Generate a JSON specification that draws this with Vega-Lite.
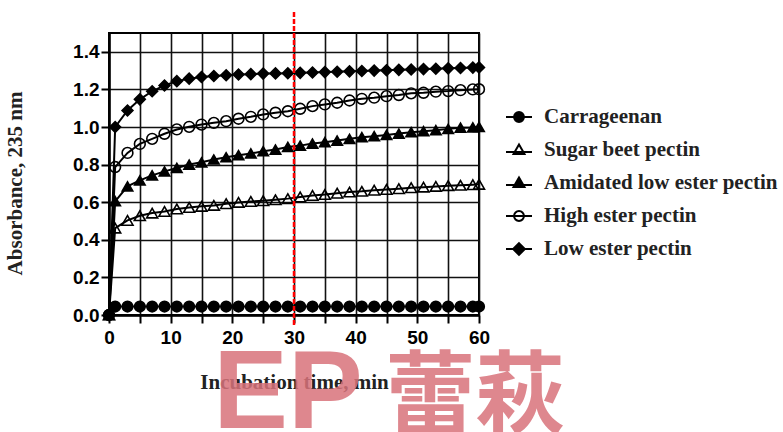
{
  "$schema": "https://vega.github.io/schema/vega-lite/v6.json",
  "width": 370,
  "height": 282,
  "autosize": "none",
  "padding": {"left": 109, "top": 33, "right": 304, "bottom": 117},
  "background": "white",
  "config": {
    "view": {"stroke": "black", "strokeWidth": 2},
    "axis": {
      "domainColor": "black", "domainWidth": 2.5,
      "tickColor": "black", "tickWidth": 2, "tickSize": 8,
      "gridColor": "#111111", "gridWidth": 1.6, "gridOpacity": 1,
      "labelFont": "Liberation Sans", "labelFontWeight": "bold", "labelFontSize": 19, "labelColor": "black",
      "labelOverlap": false, "labelBound": false, "labelFlush": false,
      "titleFont": "Liberation Serif", "titleFontWeight": "bold", "titleFontSize": 21, "titleColor": "#222222"
    }
  },
  "datasets": {
    "main": [
      {"t":0,"s":"Carrageenan","v":0},{"t":1,"s":"Carrageenan","v":0.045},{"t":3,"s":"Carrageenan","v":0.045},{"t":5,"s":"Carrageenan","v":0.045},{"t":7,"s":"Carrageenan","v":0.045},{"t":9,"s":"Carrageenan","v":0.045},{"t":11,"s":"Carrageenan","v":0.045},{"t":13,"s":"Carrageenan","v":0.045},{"t":15,"s":"Carrageenan","v":0.045},{"t":17,"s":"Carrageenan","v":0.045},{"t":19,"s":"Carrageenan","v":0.045},{"t":21,"s":"Carrageenan","v":0.045},{"t":23,"s":"Carrageenan","v":0.045},{"t":25,"s":"Carrageenan","v":0.045},{"t":27,"s":"Carrageenan","v":0.045},{"t":29,"s":"Carrageenan","v":0.045},{"t":31,"s":"Carrageenan","v":0.045},{"t":33,"s":"Carrageenan","v":0.045},{"t":35,"s":"Carrageenan","v":0.045},{"t":37,"s":"Carrageenan","v":0.045},{"t":39,"s":"Carrageenan","v":0.045},{"t":41,"s":"Carrageenan","v":0.045},{"t":43,"s":"Carrageenan","v":0.045},{"t":45,"s":"Carrageenan","v":0.045},{"t":47,"s":"Carrageenan","v":0.045},{"t":49,"s":"Carrageenan","v":0.045},{"t":51,"s":"Carrageenan","v":0.045},{"t":53,"s":"Carrageenan","v":0.045},{"t":55,"s":"Carrageenan","v":0.045},{"t":57,"s":"Carrageenan","v":0.045},{"t":59,"s":"Carrageenan","v":0.045},{"t":60,"s":"Carrageenan","v":0.045},
      {"t":0,"s":"Sugar beet pectin","v":0},{"t":1,"s":"Sugar beet pectin","v":0.462},{"t":3,"s":"Sugar beet pectin","v":0.503},{"t":5,"s":"Sugar beet pectin","v":0.528},{"t":7,"s":"Sugar beet pectin","v":0.542},{"t":9,"s":"Sugar beet pectin","v":0.551},{"t":11,"s":"Sugar beet pectin","v":0.564},{"t":13,"s":"Sugar beet pectin","v":0.572},{"t":15,"s":"Sugar beet pectin","v":0.578},{"t":17,"s":"Sugar beet pectin","v":0.583},{"t":19,"s":"Sugar beet pectin","v":0.592},{"t":21,"s":"Sugar beet pectin","v":0.599},{"t":23,"s":"Sugar beet pectin","v":0.604},{"t":25,"s":"Sugar beet pectin","v":0.608},{"t":27,"s":"Sugar beet pectin","v":0.613},{"t":29,"s":"Sugar beet pectin","v":0.619},{"t":31,"s":"Sugar beet pectin","v":0.628},{"t":33,"s":"Sugar beet pectin","v":0.636},{"t":35,"s":"Sugar beet pectin","v":0.641},{"t":37,"s":"Sugar beet pectin","v":0.648},{"t":39,"s":"Sugar beet pectin","v":0.654},{"t":41,"s":"Sugar beet pectin","v":0.658},{"t":43,"s":"Sugar beet pectin","v":0.664},{"t":45,"s":"Sugar beet pectin","v":0.668},{"t":47,"s":"Sugar beet pectin","v":0.672},{"t":49,"s":"Sugar beet pectin","v":0.677},{"t":51,"s":"Sugar beet pectin","v":0.68},{"t":53,"s":"Sugar beet pectin","v":0.684},{"t":55,"s":"Sugar beet pectin","v":0.688},{"t":57,"s":"Sugar beet pectin","v":0.69},{"t":59,"s":"Sugar beet pectin","v":0.693},{"t":60,"s":"Sugar beet pectin","v":0.695},
      {"t":0,"s":"Amidated low ester pectin","v":0},{"t":1,"s":"Amidated low ester pectin","v":0.605},{"t":3,"s":"Amidated low ester pectin","v":0.684},{"t":5,"s":"Amidated low ester pectin","v":0.716},{"t":7,"s":"Amidated low ester pectin","v":0.743},{"t":9,"s":"Amidated low ester pectin","v":0.764},{"t":11,"s":"Amidated low ester pectin","v":0.782},{"t":13,"s":"Amidated low ester pectin","v":0.8},{"t":15,"s":"Amidated low ester pectin","v":0.812},{"t":17,"s":"Amidated low ester pectin","v":0.827},{"t":19,"s":"Amidated low ester pectin","v":0.839},{"t":21,"s":"Amidated low ester pectin","v":0.85},{"t":23,"s":"Amidated low ester pectin","v":0.859},{"t":25,"s":"Amidated low ester pectin","v":0.871},{"t":27,"s":"Amidated low ester pectin","v":0.88},{"t":29,"s":"Amidated low ester pectin","v":0.894},{"t":31,"s":"Amidated low ester pectin","v":0.901},{"t":33,"s":"Amidated low ester pectin","v":0.912},{"t":35,"s":"Amidated low ester pectin","v":0.919},{"t":37,"s":"Amidated low ester pectin","v":0.928},{"t":39,"s":"Amidated low ester pectin","v":0.937},{"t":41,"s":"Amidated low ester pectin","v":0.946},{"t":43,"s":"Amidated low ester pectin","v":0.951},{"t":45,"s":"Amidated low ester pectin","v":0.958},{"t":47,"s":"Amidated low ester pectin","v":0.965},{"t":49,"s":"Amidated low ester pectin","v":0.972},{"t":51,"s":"Amidated low ester pectin","v":0.978},{"t":53,"s":"Amidated low ester pectin","v":0.983},{"t":55,"s":"Amidated low ester pectin","v":0.99},{"t":57,"s":"Amidated low ester pectin","v":0.996},{"t":59,"s":"Amidated low ester pectin","v":0.998},{"t":60,"s":"Amidated low ester pectin","v":1.0},
      {"t":0,"s":"High ester pectin","v":0},{"t":1,"s":"High ester pectin","v":0.787},{"t":3,"s":"High ester pectin","v":0.862},{"t":5,"s":"High ester pectin","v":0.91},{"t":7,"s":"High ester pectin","v":0.937},{"t":9,"s":"High ester pectin","v":0.964},{"t":11,"s":"High ester pectin","v":0.987},{"t":13,"s":"High ester pectin","v":1.001},{"t":15,"s":"High ester pectin","v":1.013},{"t":17,"s":"High ester pectin","v":1.022},{"t":19,"s":"High ester pectin","v":1.031},{"t":21,"s":"High ester pectin","v":1.044},{"t":23,"s":"High ester pectin","v":1.054},{"t":25,"s":"High ester pectin","v":1.067},{"t":27,"s":"High ester pectin","v":1.076},{"t":29,"s":"High ester pectin","v":1.084},{"t":31,"s":"High ester pectin","v":1.097},{"t":33,"s":"High ester pectin","v":1.111},{"t":35,"s":"High ester pectin","v":1.12},{"t":37,"s":"High ester pectin","v":1.129},{"t":39,"s":"High ester pectin","v":1.141},{"t":41,"s":"High ester pectin","v":1.15},{"t":43,"s":"High ester pectin","v":1.156},{"t":45,"s":"High ester pectin","v":1.164},{"t":47,"s":"High ester pectin","v":1.17},{"t":49,"s":"High ester pectin","v":1.179},{"t":51,"s":"High ester pectin","v":1.182},{"t":53,"s":"High ester pectin","v":1.188},{"t":55,"s":"High ester pectin","v":1.191},{"t":57,"s":"High ester pectin","v":1.196},{"t":59,"s":"High ester pectin","v":1.2},{"t":60,"s":"High ester pectin","v":1.201},
      {"t":0,"s":"Low ester pectin","v":0},{"t":1,"s":"Low ester pectin","v":1.0},{"t":3,"s":"Low ester pectin","v":1.088},{"t":5,"s":"Low ester pectin","v":1.147},{"t":7,"s":"Low ester pectin","v":1.19},{"t":9,"s":"Low ester pectin","v":1.221},{"t":11,"s":"Low ester pectin","v":1.244},{"t":13,"s":"Low ester pectin","v":1.257},{"t":15,"s":"Low ester pectin","v":1.266},{"t":17,"s":"Low ester pectin","v":1.271},{"t":19,"s":"Low ester pectin","v":1.275},{"t":21,"s":"Low ester pectin","v":1.279},{"t":23,"s":"Low ester pectin","v":1.281},{"t":25,"s":"Low ester pectin","v":1.284},{"t":27,"s":"Low ester pectin","v":1.285},{"t":29,"s":"Low ester pectin","v":1.286},{"t":31,"s":"Low ester pectin","v":1.288},{"t":33,"s":"Low ester pectin","v":1.29},{"t":35,"s":"Low ester pectin","v":1.292},{"t":37,"s":"Low ester pectin","v":1.294},{"t":39,"s":"Low ester pectin","v":1.296},{"t":41,"s":"Low ester pectin","v":1.298},{"t":43,"s":"Low ester pectin","v":1.3},{"t":45,"s":"Low ester pectin","v":1.302},{"t":47,"s":"Low ester pectin","v":1.304},{"t":49,"s":"Low ester pectin","v":1.306},{"t":51,"s":"Low ester pectin","v":1.308},{"t":53,"s":"Low ester pectin","v":1.31},{"t":55,"s":"Low ester pectin","v":1.312},{"t":57,"s":"Low ester pectin","v":1.314},{"t":59,"s":"Low ester pectin","v":1.316},{"t":60,"s":"Low ester pectin","v":1.317}
    ],
    "marker": [{"t": 30, "v": -0.053, "v2": 1.616}],
    "wmLatin": [{"t": 16.9, "v": -0.6, "label": "EP"}],
    "wmCJK": [{"t": 44.8, "v": -0.59, "label": "蕾萩"}]
  },
  "encoding": {
    "x": {
      "field": "t", "type": "quantitative", "title": "Incubation time, min",
      "scale": {"domain": [0, 60], "nice": false, "zero": false},
      "axis": {
        "values": [0, 5, 10, 15, 20, 25, 30, 35, 40, 45, 50, 55, 60],
        "labelExpr": "datum.value % 10 === 0 ? datum.label : ''",
        "labelPadding": 5, "titleY": 67, "titleBaseline": "middle"
      }
    },
    "y": {
      "field": "v", "type": "quantitative", "title": "Absorbance, 235 nm",
      "scale": {"domain": [0, 1.5], "nice": false},
      "axis": {
        "values": [0, 0.2, 0.4, 0.6, 0.8, 1.0, 1.2, 1.4],
        "format": ".1f", "labelPadding": 2,
        "titleX": -93.5, "titleY": 150, "titleBaseline": "middle"
      }
    }
  },
  "layer": [
    {
      "data": {"name": "wmLatin"},
      "mark": {"type": "text", "font": "Liberation Sans", "fontWeight": "bold", "fontSize": 112, "align": "left", "baseline": "alphabetic", "color": "#d9737b", "opacity": 0.85},
      "encoding": {"text": {"field": "label"}}
    },
    {
      "data": {"name": "wmCJK"},
      "mark": {"type": "text", "font": "Noto Sans CJK SC", "fontWeight": "bold", "fontSize": 90, "align": "left", "baseline": "alphabetic", "color": "#d9737b", "opacity": 0.85},
      "encoding": {"text": {"field": "label"}}
    },
    {
      "data": {"name": "main"},
      "mark": {"type": "line", "color": "black", "strokeWidth": 2},
      "encoding": {"detail": {"field": "s"}}
    },
    {
      "data": {"name": "main"},
      "mark": {"type": "point", "filled": true, "stroke": "black", "strokeWidth": 1.6, "opacity": 1},
      "encoding": {
        "shape": {
          "field": "s", "type": "nominal", "legend": null,
          "scale": {
            "domain": ["Low ester pectin", "High ester pectin", "Amidated low ester pectin", "Sugar beet pectin", "Carrageenan"],
            "range": ["diamond", "circle", "triangle-up", "triangle-up", "circle"]
          }
        },
        "size": {
          "field": "s", "type": "nominal", "legend": null,
          "scale": {
            "domain": ["Amidated low ester pectin", "Carrageenan", "High ester pectin", "Low ester pectin", "Sugar beet pectin"],
            "range": [110, 121, 130, 165, 110]
          }
        },
        "fill": {
          "field": "s", "type": "nominal",
          "scale": {
            "domain": ["Carrageenan", "Sugar beet pectin", "Amidated low ester pectin", "High ester pectin", "Low ester pectin"],
            "range": ["black", "transparent", "black", "transparent", "black"]
          },
          "legend": {
            "title": null, "orient": "none", "legendX": 396, "legendY": 70, "padding": 0,
            "symbolSize": 676, "symbolStrokeWidth": 2, "symbolStrokeColor": "black", "symbolOpacity": 1,
            "labelFont": "Liberation Serif", "labelFontWeight": "bold", "labelFontSize": 21, "labelColor": "#222222",
            "labelOffset": 11, "rowPadding": 9, "labelLimit": 400,
            "encode": {
              "symbols": {
                "update": {
                  "shape": {"signal": "datum.value === 'Low ester pectin' ? 'M-1,0H1M0,-0.45L0.45,0L0,0.45L-0.45,0Z' : (datum.value === 'Sugar beet pectin' || datum.value === 'Amidated low ester pectin') ? 'M-1,0.15H1M0,-0.42L0.42,0.3L-0.42,0.3Z' : 'M-1,0H1M0.38,0A0.38,0.38,0,1,1,-0.38,0A0.38,0.38,0,1,1,0.38,0Z'"},
                  "stroke": {"value": "black"},
                  "strokeWidth": {"value": 2},
                  "size": {"value": 676},
                  "opacity": {"value": 1}
                }
              }
            }
          }
        }
      }
    },
    {
      "data": {"name": "marker"},
      "mark": {"type": "rule", "color": "#ff0000", "strokeWidth": 2.5, "strokeDash": [5, 2]},
      "encoding": {"y2": {"field": "v2"}}
    }
  ]
}
